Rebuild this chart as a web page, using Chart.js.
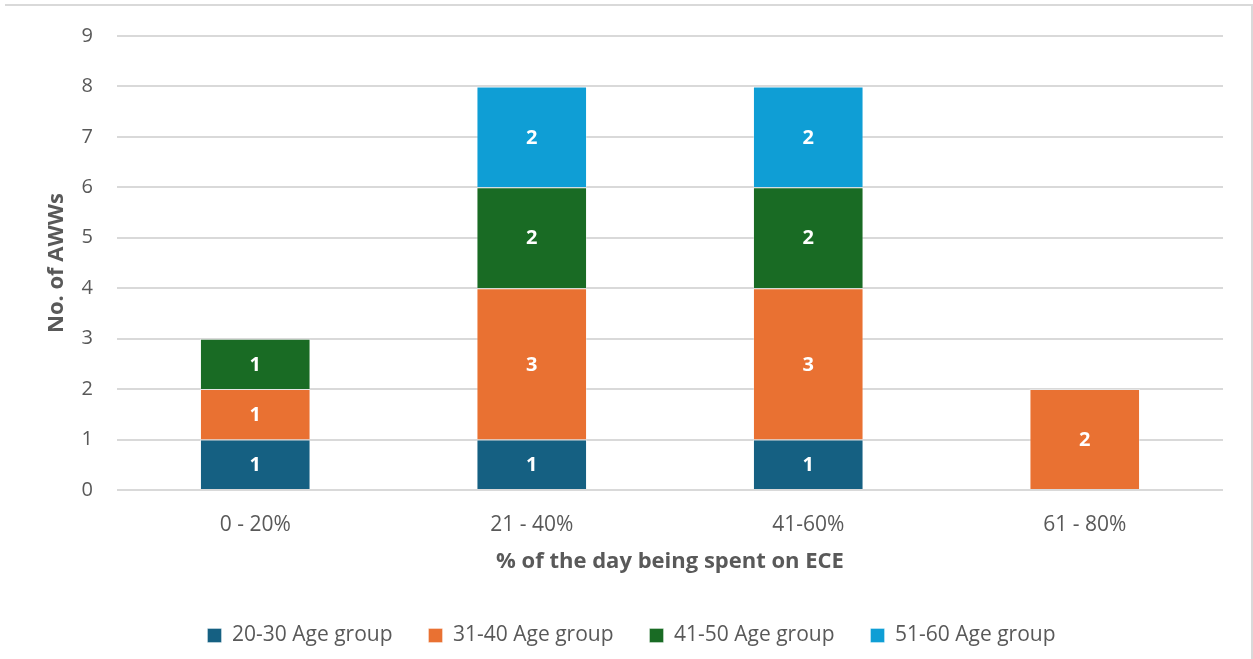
<!DOCTYPE html>
<html>
<head>
<meta charset="utf-8">
<script src="https://cdn.jsdelivr.net/npm/chart.js@4"></script>
<style>
  html, body { margin: 0; padding: 0; background: #fff; }
  #wrap { position: relative; width: 1253px; height: 659px; }
  #frame {
    position: absolute; left: 5px; top: 4px; right: 0; bottom: 0;
    border-top: 2px solid #d9d9d9; border-right: 2px solid #d9d9d9;
  }
  canvas { position: absolute; left: 0; top: 0; }
</style>
</head>
<body>
<div id="wrap">
  <div id="frame"></div>
  <canvas id="chart" width="1253" height="659"></canvas>
</div>
<script>
const categories = ["0 - 20%", "21 - 40%", "41-60%", "61 - 80%"];
const age20to30 = [1, 1, 1, 0];
const age31to40 = [1, 3, 3, 2];
const age41to50 = [1, 2, 2, 0];
const age51to60 = [0, 2, 2, 0];
const yTicks = [0, 1, 2, 3, 4, 5, 6, 7, 8, 9];

const FONT = "'Open Sans', 'Liberation Sans', sans-serif";
const GREY = "#595959";

// white value labels in the middle of each stacked segment
const segmentLabels = {
    id: "segmentLabels",
    afterDatasetsDraw(chart) {
        const ctx = chart.ctx;
        ctx.save();
        ctx.fillStyle = "#ffffff";
        ctx.font = "bold 20px " + FONT;
        ctx.textAlign = "center";
        ctx.textBaseline = "middle";
        chart.data.datasets.forEach((ds, i) => {
            chart.getDatasetMeta(i).data.forEach((bar, j) => {
                const v = ds.data[j];
                if (!v) return;
                ctx.fillText(String(v), bar.x, (bar.y + bar.base) / 2 + 1);
            });
        });
        ctx.restore();
    }
};

function series(label, data, color) {
    return {
        label: label,
        data: data,
        backgroundColor: color,
        borderColor: "rgba(255,255,255,0.35)",
        borderWidth: 1,
        categoryPercentage: 1,
        barPercentage: 0.4
    };
}

new Chart(document.getElementById("chart"), {
    type: "bar",
    data: {
        labels: categories,
        datasets: [
            series("20-30 Age group", age20to30, "#156082"),
            series("31-40 Age group", age31to40, "#e97132"),
            series("41-50 Age group", age41to50, "#196b24"),
            series("51-60 Age group", age51to60, "#0f9ed5")
        ]
    },
    options: {
        responsive: false,
        animation: false,
        layout: { padding: { left: 40, right: 30, top: 27, bottom: 3 } },
        scales: {
            x: {
                stacked: true,
                grid: { display: false },
                border: { display: false },
                ticks: { color: GREY, font: { family: FONT, size: 21 }, padding: 14 },
                title: {
                    display: true,
                    text: "% of the day being spent on ECE",
                    color: GREY,
                    font: { family: FONT, size: 22, weight: "bold" },
                    padding: { top: 4, bottom: 14 }
                },
                afterFit(scale) { scale.height = 99; }
            },
            y: {
                stacked: true,
                min: 0,
                max: 9,
                afterBuildTicks(scale) { scale.ticks = yTicks.map(v => ({ value: v })); },
                grid: { color: "#d9d9d9", lineWidth: 2, drawTicks: false },
                border: { display: false },
                ticks: { color: GREY, font: { family: FONT, size: 20 }, padding: 24 },
                title: {
                    display: true,
                    text: "No. of AWWs",
                    color: GREY,
                    font: { family: FONT, size: 22, weight: "bold" },
                    padding: { top: 4, bottom: 8 }
                },
                afterFit(scale) { scale.width = 77; }
            }
        },
        plugins: {
            legend: {
                position: "bottom",
                labels: {
                    color: GREY,
                    font: { family: FONT, size: 21 },
                    boxWidth: 14,
                    boxHeight: 14,
                    padding: 36
                }
            },
            tooltip: { enabled: false }
        }
    },
    plugins: [segmentLabels]
});
</script>
</body>
</html>
